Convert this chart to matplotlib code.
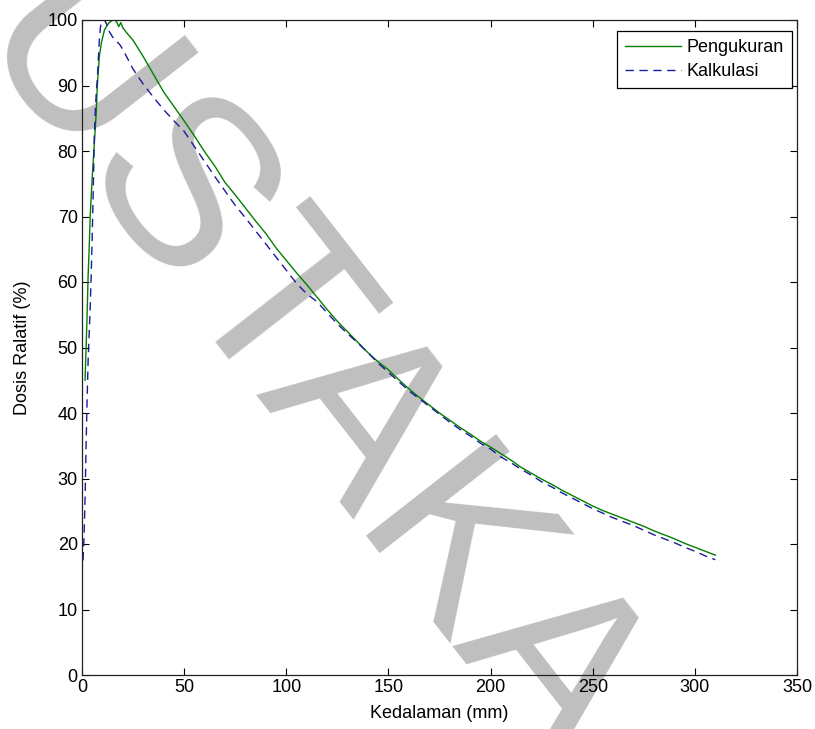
import matplotlib
matplotlib.use("Agg")
import matplotlib.pyplot as plt

plt.rcParams['font.family'] = ['Liberation Sans', 'DejaVu Sans']

# kedalaman (mm) dan dosis relatif (%) - pengukuran
x_ukur = [1.5, 2, 2.5, 3, 3.5, 4, 5, 6, 7, 7.5, 8.5, 9.5, 11, 13, 15, 16, 17, 18, 19, 20,
          22, 25, 30, 35, 40, 45, 50, 55, 60, 65, 70, 75, 80, 85, 90, 95, 100, 105, 110,
          115, 120, 125, 130, 135, 140, 145, 150, 155, 160, 165, 170, 175, 180, 185, 190,
          195, 200, 205, 210, 215, 220, 225, 230, 235, 240, 245, 250, 255, 260, 265, 270,
          275, 280, 285, 290, 295, 300, 305, 310]
y_ukur = [45, 50, 55, 61, 65, 70, 76, 81, 86, 90, 94.5, 96.5, 98.5, 99.5, 100, 100, 99.7, 99,
          99.6, 98.8, 98, 96.9, 94.4, 91.7, 89.0, 86.8, 84.6, 82.3, 79.9, 77.7, 75.2, 73.3,
          71.3, 69.3, 67.4, 65.2, 63.3, 61.4, 59.6, 57.7, 55.8, 54.0, 52.4, 50.8, 49.2, 47.8,
          46.6, 45.1, 43.7, 42.4, 41.2, 40.0, 38.9, 37.8, 36.8, 35.7, 34.8, 33.8, 32.8, 31.7,
          30.8, 29.9, 29.1, 28.2, 27.4, 26.6, 25.8, 25.1, 24.5, 23.9, 23.3, 22.7, 22.0, 21.4,
          20.8, 20.1, 19.5, 18.9, 18.3]

# kalkulasi
x_kalk = [0.5, 1, 1.5, 2, 2.5, 3, 3.5, 4, 4.5, 5, 5.5, 6, 6.5, 7, 7.5, 8, 8.5, 9, 9.6, 11,
          12, 13, 15, 18.6, 20, 25, 30, 35, 40, 45, 50, 55, 60, 65, 70, 75, 80, 85, 90, 95,
          100, 105, 110, 115, 120, 125, 130, 135, 140, 145, 150, 155, 160, 165, 170, 175,
          180, 185, 190, 195, 200, 205, 210, 215, 220, 225, 230, 235, 240, 245, 250, 255,
          260, 265, 270, 275, 280, 285, 290, 295, 300, 305, 310]
y_kalk = [17.5, 21, 27, 35, 42, 48, 52, 56, 61, 67, 74, 82, 86, 89, 91, 94, 97, 98.8, 100,
          100, 99.4, 98.4, 97.4, 96.2, 95.5, 92.5, 90.2, 88.2, 86.3, 84.6, 83.0, 80.7, 78.4,
          76.1, 73.9, 71.7, 69.8, 67.8, 65.8, 63.8, 61.8, 59.8, 58.2, 57.0, 55.3, 53.6, 52.1,
          50.7, 49.2, 47.6, 46.2, 44.8, 43.4, 42.2, 41.0, 39.8, 38.6, 37.5, 36.5, 35.4, 34.5,
          33.3, 32.4, 31.4, 30.5, 29.5, 28.7, 27.8, 27.0, 26.2, 25.4, 24.7, 24.0, 23.4, 22.8,
          22.1, 21.4, 20.8, 20.2, 19.5, 18.9, 18.2, 17.6]

fig = plt.figure(figsize=(8.15, 7.29), dpi=100)
ax = fig.add_axes([82 / 815, 1 - 675 / 729, 715 / 815, 655 / 729])
ax.set_facecolor('none')

# watermark di belakang grafik
fig.text(303 / 815, 1 - 378 / 729, 'USTAKA', fontsize=172, color='#bfbfbf',
         rotation=-52, rotation_mode='anchor', ha='center', va='center', zorder=-1)

ax.plot(x_ukur, y_ukur, color='#008000', lw=1.0, label='Pengukuran')
ax.plot(x_kalk, y_kalk, color='#1a1a9a', lw=1.0, dashes=(6, 4), label='Kalkulasi')

ax.set_xlim(0, 350)
ax.set_ylim(0, 100)
ax.set_xticks(range(0, 351, 50))
ax.set_yticks(range(0, 101, 10))
ax.tick_params(direction='in', length=5, width=0.8, top=True, right=True,
               labelsize=13, pad=3)
for s in ax.spines.values():
    s.set_linewidth(0.9)
    s.set_color('#222222')

ax.set_xlabel('Kedalaman (mm)', fontsize=13, labelpad=6)
ax.set_ylabel('Dosis Ralatif (%)', fontsize=13, labelpad=12)

leg = ax.legend(loc='upper right', bbox_to_anchor=(792 / 815, 1 - 31 / 729),
                bbox_transform=fig.transFigure, borderaxespad=0, fontsize=13,
                fancybox=False, framealpha=1, edgecolor='black', handlelength=3.1,
                handletextpad=0.3, labelspacing=0.4, borderpad=0.45)
leg.get_frame().set_linewidth(0.9)

fig.savefig('out.png', dpi=100)
